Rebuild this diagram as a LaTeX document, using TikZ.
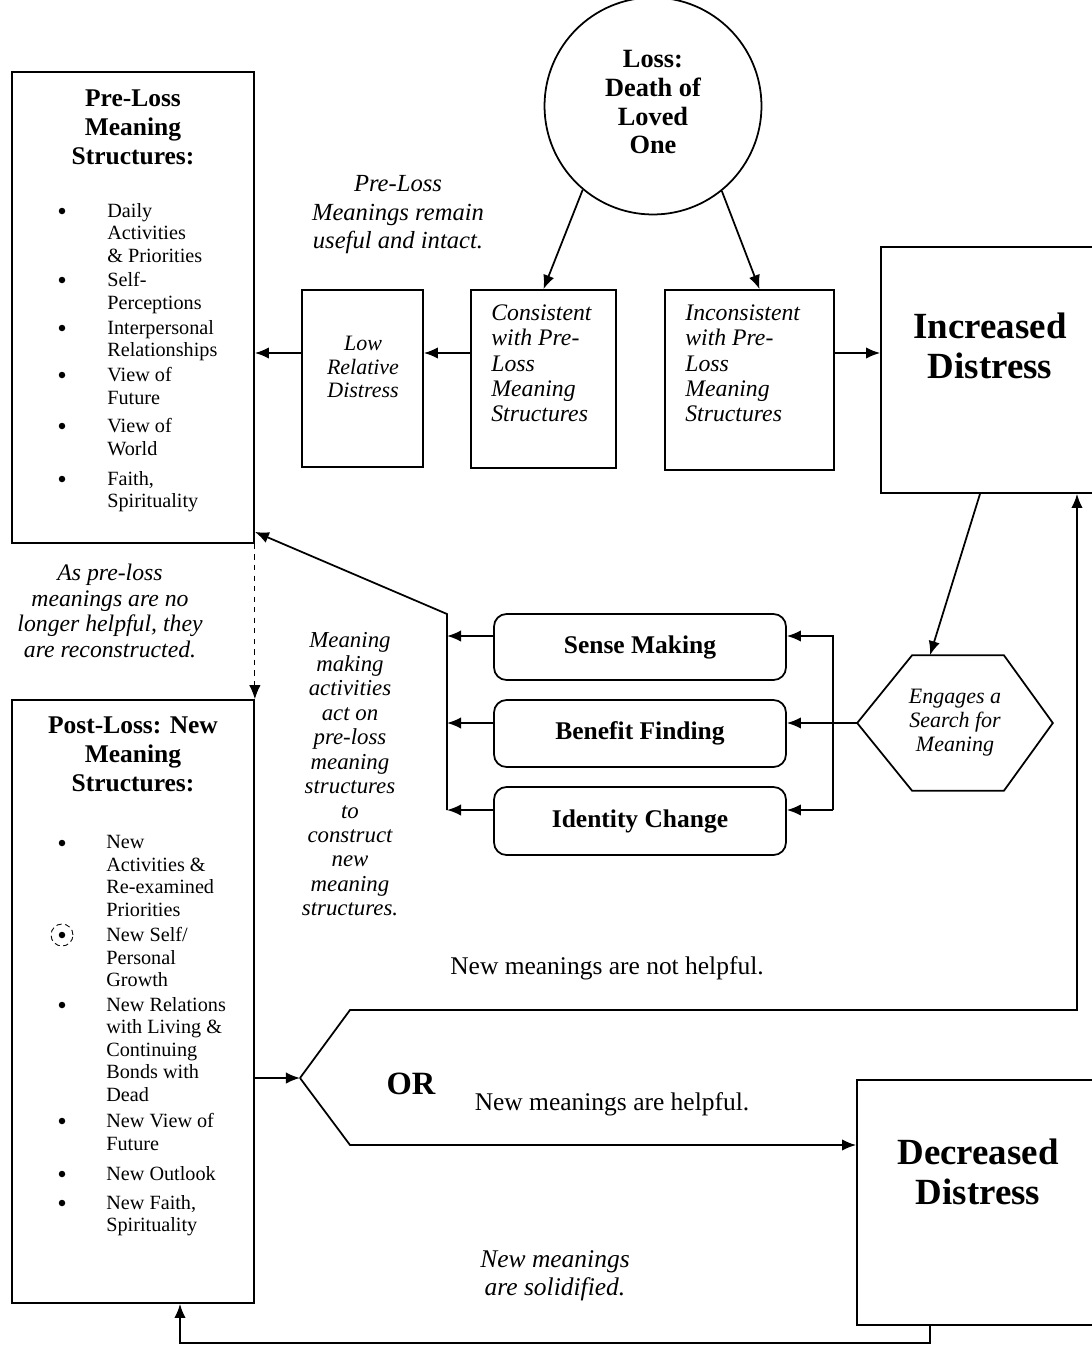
\documentclass[tikz,border=0pt]{standalone}
\usepackage{fontspec}
\setmainfont{Liberation Serif}
\usetikzlibrary{arrows.meta,positioning}

\tikzset{
  box/.style={draw, line width=1pt, inner sep=0pt},
  rbox/.style={box, rounded corners=0.25cm, minimum width=5.84cm,
    font=\fontsize{14.5}{16}\selectfont\bfseries},
  flow/.style={line width=1pt, ->, >={Latex[length=8pt,width=6.5pt]}},
  heading/.style={align=center, font=\fontsize{14.5}{16.5}\selectfont\bfseries},
  entry/.style={align=left, anchor=north west, inner sep=0pt,
    font=\fontsize{11.5}{12.8}\selectfont},
  dot/.style={circle, fill, inner sep=0pt, minimum size=0.13cm},
  note/.style={align=center, inner sep=0pt, font=\fontsize{13.5}{14.7}\selectfont\itshape},
  boxtext/.style={align=left, anchor=north west, inner sep=0pt,
    font=\fontsize{13.5}{14.5}\selectfont\itshape},
  big/.style={align=center, inner sep=0pt, font=\fontsize{21}{22.7}\selectfont\bfseries},
  plain/.style={inner sep=0pt, font=\fontsize{14.5}{16}\selectfont},
}

\begin{document}
\begin{tikzpicture}[x=0.02cm, y=-0.02cm]
  \useasboundingbox (0,0) rectangle (1092,1346);
  \clip (0,0) rectangle (1092,1346);

  % the loss
  \node[circle, draw, line width=1pt, minimum size=4.34cm, align=center,
    font=\fontsize{15}{16.5}\selectfont\bfseries] (loss) at (653,106) {};
  \node[align=center, inner sep=0pt, font=\fontsize{15}{16.5}\selectfont\bfseries]
    (losstext) at (653,102) {Loss:\\Death of\\Loved\\One};

  % pre-loss structures
  \node[box, minimum width=242*0.02cm, minimum height=471*0.02cm] (preloss) at (133,307.5) {};
  \node[heading] (pretitle) at (133,127) {Pre-Loss\\Meaning\\Structures:};
  \foreach \yy/\txt in {211/{Daily\\Activities\\\& Priorities}, 280/{Self-\\Perceptions},
      328/{Interpersonal\\Relationships}, 375/{View of\\Future}, 426/{View of\\World},
      479/{Faith,\\Spirituality}} {
    \node[dot] (pd\yy) at (62,\yy) {};
    \node[entry] (pi\yy) at (107,\yy-8) {\txt};
  }

  % post-loss structures
  \node[box, minimum width=242*0.02cm, minimum height=603*0.02cm] (postloss) at (133,1001.5) {};
  \node[heading] (posttitle) at (133,754) {Post-Loss: New\\Meaning\\Structures:};
  \foreach \yy/\txt in {843/{New\\Activities \&\\Re-examined\\Priorities},
      935/{New Self/\\Personal\\Growth},
      1005/{New Relations\\with Living \&\\Continuing\\Bonds with\\Dead},
      1121/{New View of\\Future}, 1174/{New Outlook}, 1203/{New Faith,\\Spirituality}} {
    \node[dot] (qd\yy) at (62,\yy) {};
    \node[entry] (qi\yy) at (106,\yy-8) {\txt};
  }
  \draw[densely dashed, line width=0.5pt] (qd935) circle (0.22cm);

  % top row of boxes
  \node[box, minimum width=121*0.02cm, minimum height=177*0.02cm] (low) at (362.5,378.5) {};
  \node[note, font=\fontsize{12.5}{13.3}\selectfont\itshape] (lowtext) at (363,367)
    {Low\\Relative\\Distress};
  \node[box, minimum width=145*0.02cm, minimum height=178*0.02cm] (consistent) at (543.5,379) {};
  \node[boxtext] (constext) at (491,304)
    {Consistent\\with Pre-\\Loss\\Meaning\\Structures};
  \node[box, minimum width=169*0.02cm, minimum height=180*0.02cm] (inconsistent) at (749.5,380) {};
  \node[boxtext] (inctext) at (685,304)
    {Inconsistent\\with Pre-\\Loss\\Meaning\\Structures};
  \node[box, minimum width=229*0.02cm, minimum height=246*0.02cm] (increased) at (995.5,370) {};
  \node[big] (inctitle) at (990,346) {Increased\\Distress};

  \node[note, font=\fontsize{14}{16.2}\selectfont\itshape] (intact) at (398,215)
    {Pre-Loss\\Meanings remain\\useful and intact.};

  % meaning making
  \node[rbox, minimum height=66*0.02cm] (sense) at (640,647) {Sense Making};
  \node[rbox, minimum height=67*0.02cm] (benefit) at (640,733.5) {Benefit Finding};
  \node[rbox, minimum height=68*0.02cm] (identity) at (640,821) {Identity Change};
  \node[note, font=\fontsize{12.5}{13.6}\selectfont\itshape, minimum width=3.9cm,
    minimum height=2.7cm] (search) at (955,723) {Engages a\\Search for\\Meaning};
  \draw[line width=1pt] (search.west) -- ([xshift=1.1cm]search.north west)
    -- ([xshift=-0.98cm]search.north east) -- (search.east)
    -- ([xshift=-0.98cm]search.south east) -- ([xshift=1.1cm]search.south west) -- cycle;

  \node[note] (rebuilt) at (110,611)
    {As pre-loss\\meanings are no\\longer helpful, they\\are reconstructed.};
  \node[note, font=\fontsize{13}{13.9}\selectfont\itshape] (acts) at (350,774)
    {Meaning\\making\\activities\\act on\\pre-loss\\meaning\\structures\\to\\construct\\new\\meaning\\structures.};

  % outcomes
  \node[box, minimum width=253*0.02cm, minimum height=245*0.02cm] (decreased) at (983.5,1202.5) {};
  \node[big] (dectitle) at (978,1172) {Decreased\\Distress};
  \node[plain] (nothelp) at (607,968) {New meanings are not helpful.};
  \node[plain, font=\fontsize{18.5}{20}\selectfont\bfseries] (ortext) at (411,1084) {OR};
  \node[plain] (help) at (612,1104) {New meanings are helpful.};
  \node[note, font=\fontsize{14.5}{15.9}\selectfont\itshape] (solid) at (555,1276)
    {New meanings\\are solidified.};

  % connectors
  \coordinate (mid) at (0,353);
  \coordinate (row1) at (0,636);
  \coordinate (row2) at (0,723);
  \coordinate (row3) at (0,810);
  \coordinate (lbus) at (447,614);
  \coordinate (rbus) at (833,636);
  \coordinate (orpt) at (300,1078);
  \coordinate (upbend) at (350,1010);
  \coordinate (upturn) at (1077,1010);
  \coordinate (lowbend) at (350,1145);
  \coordinate (loopfoot) at (930,1343);
  \coordinate (loopend) at (180,1343);

  \draw[flow] (loss.230) -- (consistent.north);
  \draw[flow] (loss.309) -- ([xshift=0.2cm]inconsistent.north);
  \draw[flow] (consistent.west |- mid) -- (low.east |- mid);
  \draw[flow] (low.west |- mid) -- (preloss.east |- mid);
  \draw[flow] (inconsistent.east |- mid) -- (increased.west |- mid);
  \draw[flow] ([xshift=-0.31cm]increased.south) -- ([xshift=-0.5cm]search.north);

  \draw[flow] (rbus |- row3) -- (rbus) -- (sense.east |- row1);
  \draw[flow] (search.west) -- (benefit.east |- row2);
  \draw[flow] (rbus |- row3) -- (identity.east |- row3);

  \draw[flow] (sense.west |- row1) -- (lbus |- row1);
  \draw[flow] (benefit.west |- row2) -- (lbus |- row2);
  \draw[flow] (identity.west |- row3) -- (lbus |- row3);
  \draw[flow] (lbus |- row3) -- (lbus) -- ([yshift=0.24cm]preloss.south east);

  \draw[flow, dashed, line width=0.6pt] (preloss.south east) -- (postloss.north east);

  \draw[flow] (postloss.east |- orpt) -- (orpt);
  \draw[flow] (orpt) -- (upbend) -- (upturn) -- (upturn |- increased.south);
  \draw[flow] (orpt) -- (lowbend) -- (lowbend -| decreased.west);
  \draw[flow] (loopfoot |- decreased.south) -- (loopfoot) -- (loopend) -- (loopend |- postloss.south);
\end{tikzpicture}
\end{document}
